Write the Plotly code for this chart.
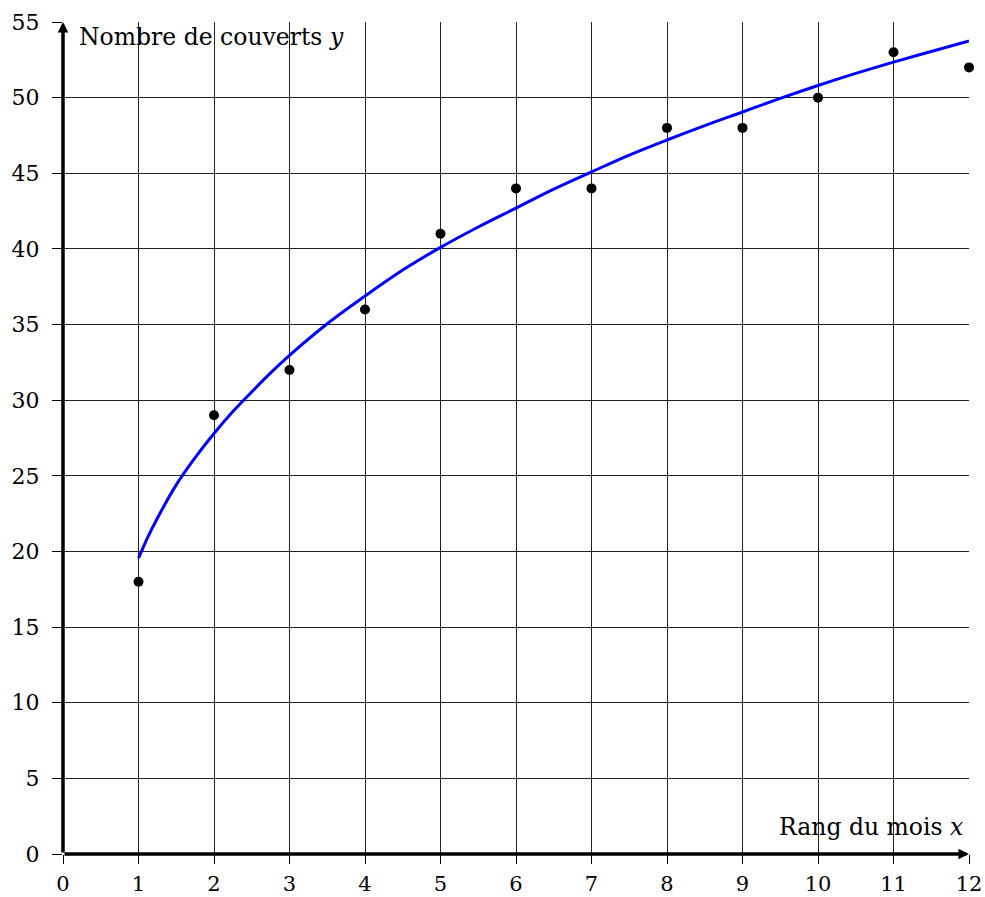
import plotly.graph_objects as go

# Data
mois = [1, 2, 3, 4, 5, 6, 7, 8, 9, 10, 11, 12]
couverts = [18, 29, 32, 36, 41, 44, 44, 48, 48, 50, 53, 52]

# Adjusted curve
courbe_x = [1, 1.125, 1.25, 1.5, 1.75, 2, 2.25, 2.5, 2.75, 3, 3.5, 4, 4.5, 5, 5.5, 6,
            6.5, 7, 7.5, 8, 8.5, 9, 9.5, 10, 10.5, 11, 11.5, 12]
courbe_y = [19.56, 20.97, 22.2, 24.4, 26.2, 27.8, 29.25, 30.55, 31.8, 32.96, 35.05,
            36.88, 38.6, 40.1, 41.45, 42.7, 43.95, 45.09, 46.2, 47.2, 48.15, 49.05,
            49.95, 50.8, 51.6, 52.35, 53.05, 53.75]

x_ticks = list(range(0, 13))
y_ticks = list(range(0, 56, 5))

FONT = "DejaVu Serif"

fig = go.Figure()
fig.add_trace(go.Scatter(x=courbe_x, y=courbe_y, mode="lines",
                         line=dict(color="#0000ff", width=3, shape="spline", smoothing=1.0),
                         hoverinfo="skip", cliponaxis=False))
fig.add_trace(go.Scatter(x=mois, y=couverts, mode="markers",
                         marker=dict(color="black", size=10),
                         cliponaxis=False))

axis_common = dict(showgrid=True, gridcolor="#222", gridwidth=1, zeroline=False,
                   showline=False, ticks="outside", tickwidth=1,
                   tickcolor="black", automargin=False)

fig.update_xaxes(range=[0, 12], tickvals=x_ticks, ticktext=[str(v) for v in x_ticks],
                 ticklen=9, ticklabelstandoff=2,
                 tickfont=dict(family=FONT, size=21, color="black"), **axis_common)
fig.update_yaxes(range=[0, 55], tickvals=y_ticks, ticktext=[str(v) for v in y_ticks],
                 ticklen=10, ticklabelstandoff=8,
                 tickfont=dict(family=FONT, size=22, color="black"), **axis_common)

# Axes with arrows
fig.add_annotation(x=12, y=0, ax=0, ay=0, xref="x", yref="y", axref="x", ayref="y",
                   showarrow=True, arrowhead=2, arrowsize=0.6, arrowwidth=3.5,
                   arrowcolor="black", text="")
fig.add_annotation(x=0, y=55, ax=0, ay=0, xref="x", yref="y", axref="x", ayref="y",
                   showarrow=True, arrowhead=2, arrowsize=0.6, arrowwidth=3.5,
                   arrowcolor="black", text="")

fig.add_annotation(x=0.18, y=54.0, xref="x", yref="y", xanchor="left", yanchor="middle",
                   text="Nombre de couverts <i>y</i>", showarrow=False,
                   font=dict(family=FONT, size=23.5, color="black"))
fig.add_annotation(x=11.95, y=1.78, xref="x", yref="y", xanchor="right", yanchor="middle",
                   text="Rang du mois <i>x</i>", showarrow=False,
                   font=dict(family=FONT, size=23.5, color="black"))

fig.update_layout(width=985, height=897, showlegend=False,
                  margin=dict(l=63, r=16, t=22, b=43),
                  plot_bgcolor="white", paper_bgcolor="white")

# remove the default page margin so the figure fills the window exactly
fig.write_html("out.html", config={"displayModeBar": False},
               post_script="document.body.style.margin='0';document.body.style.overflow='hidden';")
